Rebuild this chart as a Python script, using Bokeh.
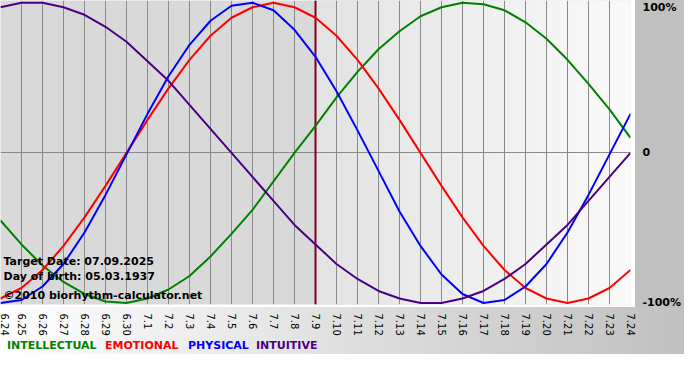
import math
from bokeh.plotting import figure
from bokeh.models import FixedTicker, Label, Span, Div
from bokeh.layouts import column
from bokeh.embed import file_html
from bokeh.resources import INLINE

# ---- data ----
day_labels = ["6.24", "6.25", "6.26", "6.27", "6.28", "6.29", "6.30",
              "7.1", "7.2", "7.3", "7.4", "7.5", "7.6", "7.7", "7.8", "7.9",
              "7.10", "7.11", "7.12", "7.13", "7.14", "7.15", "7.16", "7.17",
              "7.18", "7.19", "7.20", "7.21", "7.22", "7.23", "7.24"]
days = list(range(len(day_labels)))
target_day = 15  # 7.9

intellectual = [-0.45, -0.61, -0.75, -0.86, -0.94, -0.99, -1.00, -0.97, -0.91, -0.82,
                -0.69, -0.54, -0.38, -0.19, 0.00, 0.18, 0.37, 0.54, 0.69, 0.81,
                0.91, 0.97, 1.00, 0.99, 0.95, 0.87, 0.76, 0.62, 0.46, 0.29, 0.10]
emotional = [-0.97, -0.90, -0.78, -0.62, -0.43, -0.22, 0.00, 0.22, 0.43, 0.62,
             0.78, 0.90, 0.97, 1.00, 0.97, 0.90, 0.78, 0.62, 0.43, 0.22,
             0.00, -0.22, -0.43, -0.62, -0.78, -0.90, -0.97, -1.00, -0.97, -0.90, -0.78]
physical = [-1.00, -0.98, -0.89, -0.74, -0.53, -0.28, -0.01, 0.26, 0.51, 0.72,
            0.88, 0.98, 1.00, 0.95, 0.82, 0.64, 0.41, 0.15, -0.12, -0.39,
            -0.62, -0.81, -0.94, -1.00, -0.98, -0.89, -0.74, -0.53, -0.28, -0.01, 0.26]
intuitive = [0.97, 1.00, 1.00, 0.97, 0.92, 0.84, 0.74, 0.61, 0.48, 0.32,
             0.16, 0.00, -0.16, -0.32, -0.48, -0.61, -0.74, -0.84, -0.92, -0.97,
             -1.00, -1.00, -0.97, -0.92, -0.84, -0.74, -0.61, -0.48, -0.32, -0.16, 0.00]

y_ticks = [-1, 0, 1]
y_tick_labels = ["-100%", "0", "100%"]

series = [("INTELLECTUAL", intellectual, "#008000"),
          ("EMOTIONAL", emotional, "#ff0000"),
          ("PHYSICAL", physical, "#0000ff"),
          ("INTUITIVE", intuitive, "#4b0082")]

W = 684
RB, BB = 49, 31
FH = 307
H = FH + BB
FW = W - RB
LEG_H = 16

p = figure(width=W, height=H, x_range=(0, 30), y_range=(-1.01, 1.015),
           output_backend="svg", toolbar_location=None,
           y_axis_location="right",
           min_border_left=0, min_border_top=0,
           min_border_right=RB, min_border_bottom=BB)

p.border_fill_color = None
p.outline_line_color = None
p.background_fill_color = "#d9d9d9"
p.styles = {
    "background": (
        f"linear-gradient(#c0c0c0,#c0c0c0) {FW}px 0px / {RB}px {FH}px no-repeat, "
        f"linear-gradient(to right,#ffffff,#c0c0c0) 0px {FH}px / {W}px {BB}px no-repeat, "
        "#ffffff"
    )
}

# lighter gradient background after target date
n = 60
x0, x1 = target_day, days[-1]
for k in range(n):
    l = x0 + (x1 - x0) * k / n
    r = x0 + (x1 - x0) * (k + 1) / n
    c = int(0xe3 + (0xfa - 0xe3) * k / (n - 1))
    col = "#%02x%02x%02x" % (c, c, c)
    p.quad(left=l, right=r, bottom=-2, top=2, fill_color=col,
           line_color=col, line_width=1, level="image")

# grid
p.xgrid.ticker = FixedTicker(ticks=days)
p.xgrid.grid_line_color = "#8a8a8a"
p.xgrid.grid_line_width = 1
p.ygrid.ticker = FixedTicker(ticks=[0])
p.ygrid.grid_line_color = "#8a8a8a"
p.ygrid.grid_line_width = 1

# target date marker
p.add_layout(Span(location=target_day, dimension="height",
                  line_color="#800020", line_width=2, level="underlay"))

# curves
for name, vals, col in series:
    p.line(days, vals, line_color=col, line_width=2)

# x axis
xa = p.xaxis[0]
xa.ticker = FixedTicker(ticks=days)
xa.major_label_overrides = {d: lab for d, lab in zip(days, day_labels)}
xa.major_label_orientation = -math.pi / 2
xa.major_label_text_font = "DejaVu Sans"
xa.major_label_text_font_size = "10px"
xa.major_label_text_color = "#000000"
xa.axis_line_color = None
xa.major_tick_line_color = None
xa.minor_tick_line_color = None
xa.major_label_standoff = 3

# y axis (right)
ya = p.yaxis[0]
ya.ticker = FixedTicker(ticks=y_ticks)
ya.major_label_overrides = {t: lab for t, lab in zip(y_ticks, y_tick_labels)}
ya.major_label_text_font = "DejaVu Sans"
ya.major_label_text_font_style = "bold"
ya.major_label_text_font_size = "11px"
ya.major_label_text_color = "#000000"
ya.axis_line_color = None
ya.major_tick_line_color = None
ya.minor_tick_line_color = None
ya.major_label_standoff = 6

# info texts
for txt, yy in [("Target Date: 07.09.2025", 43),
                ("Day of birth: 05.03.1937", 28),
                ("\u00a92010 biorhythm-calculator.net", 9)]:
    p.add_layout(Label(x=3, y=yy, x_units="screen", y_units="screen", text=txt,
                       text_font="DejaVu Sans", text_font_style="bold",
                       text_font_size="11px", text_color="#000000",
                       text_baseline="alphabetic"))

# legend strip
widths = [98, 83, 68, 90]
spans = "".join(
    f'<span style="display:inline-block;width:{w}px;color:{col}">{name}</span>'
    for (name, vals, col), w in zip(series, widths)
)
legend = Div(text=spans, width=W, height=LEG_H, margin=0,
             styles={"background": "linear-gradient(to right,#ffffff,#c0c0c0)",
                     "font-family": "DejaVu Sans", "font-weight": "bold",
                     "font-size": "11px", "line-height": f"{LEG_H}px",
                     "padding-left": "7px", "box-sizing": "border-box",
                     "white-space": "nowrap", "overflow": "hidden"})

layout = column(p, legend, spacing=0)
open("out.html", "w").write(file_html(layout, INLINE))
